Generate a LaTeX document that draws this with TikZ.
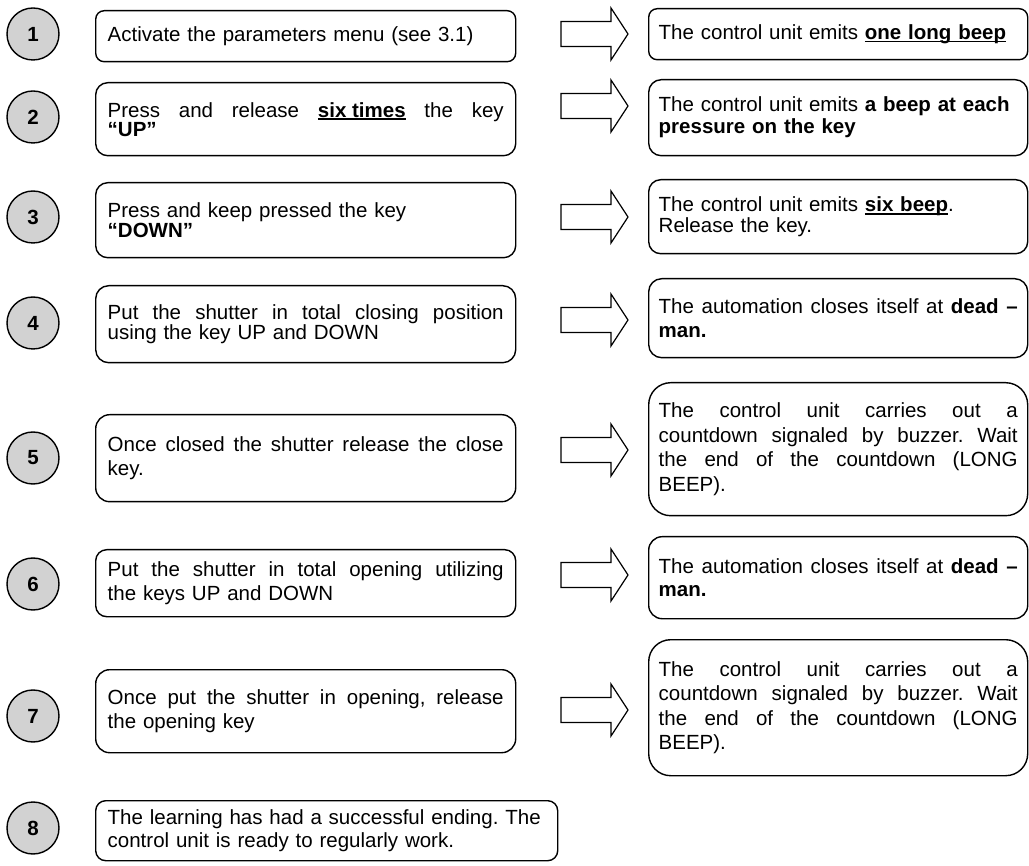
\documentclass[tikz,border=0pt]{standalone}
\usepackage{fontspec}
\setmainfont{Liberation Sans}
\frenchspacing

% bold text with a heavy underline
\newcommand{\undb}[1]{\setbox0\hbox{\bfseries #1}\rlap{\rule[-3pt]{\wd0}{1.6pt}}\box0\relax}
% a line whose spaces are stretched to the given width
\newcommand{\fullline}[2][396pt]{\leavevmode\hbox to #1{\spaceskip=0pt\xspaceskip=0pt\relax #2}}

\begin{document}
\begin{tikzpicture}[x=1pt, y=-1pt,
  txt/.style={font=\fontsize{20.5}{#1}\selectfont},
  txt/.default=23.5,
  num/.style={circle, draw, line width=1.4pt, fill=gray!35, minimum size=52pt,
    inner sep=0pt, font=\fontsize{20.5}{23.5}\selectfont\bfseries},
  stepbox/.style={draw, line width=1.4pt, anchor=north west, align=left,
    inner xsep=12pt, inner ysep=0pt, text width=396pt, txt},
  resbox/.style={draw, line width=1.4pt, anchor=north west, align=left,
    inner xsep=10pt, inner ysep=0pt, text width=359pt, txt},
  blockarrow/.style={draw, line width=1.2pt, fill=white, line join=miter}
]
\useasboundingbox (0,0) rectangle (1029,866);

% numbered step markers
\foreach \n/\y in {1/34, 2/117, 3/217, 4/323, 5/458, 6/584, 7/716, 8/828}
  \node[num] (n\n) at (33,\y) {\n};

% actions
\node[stepbox, minimum height=51pt, rounded corners=8.5pt] (L1) at (95,10)
  {Activate the parameters menu (see 3.1)};
\node[stepbox, minimum height=73pt, rounded corners=12pt, txt=19] (L2) at (95,82)
  {\fullline{Press and release \undb{six times} the key}\\\textbf{“UP”}};
\node[stepbox, minimum height=75pt, rounded corners=12pt, txt=20] (L3) at (95,182)
  {Press and keep pressed the key\\\textbf{“DOWN”}};
\node[stepbox, minimum height=77pt, rounded corners=13pt, txt=20] (L4) at (95,285)
  {\fullline{Put the shutter in total closing position}\\using the key UP and DOWN};
\node[stepbox, minimum height=87pt, rounded corners=14pt] (L5) at (95,414)
  {\fullline{Once closed the shutter release the close}\\key.};
\node[stepbox, minimum height=67pt, rounded corners=11pt] (L6) at (95,549)
  {\fullline{Put the shutter in total opening utilizing}\\the keys UP and DOWN};
\node[stepbox, minimum height=83pt, rounded corners=14pt] (L7) at (95,669)
  {\fullline{Once put the shutter in opening, release}\\the opening key};
\node[stepbox, minimum height=60pt, rounded corners=10pt, text width=438pt] (L8) at (95,800)
  {The learning has had a successful ending. The\\control unit is ready to regularly work.};

% responses
\node[resbox, minimum height=51pt, rounded corners=8.5pt] (R1) at (648,8)
  {The control unit emits \undb{one long beep}};
\node[resbox, minimum height=76pt, rounded corners=12.5pt, txt=22] (R2) at (648,79)
  {The control unit emits \textbf{a beep at each}\\\textbf{pressure on the key}};
\node[resbox, minimum height=74pt, rounded corners=12pt, txt=19] (R3) at (648,179)
  {The control unit emits \undb{six beep}.\\Release the key.};
\node[resbox, minimum height=79pt, rounded corners=13pt] (R4) at (648,278)
  {\fullline[359pt]{The automation closes itself at \textbf{dead –}}\\\textbf{man.}};
\node[resbox, minimum height=133pt, rounded corners=22pt, txt=24.5] (R5) at (648,382)
  {\fullline[359pt]{The control unit carries out a}\\
   \fullline[359pt]{countdown signaled by buzzer. Wait}\\
   \fullline[359pt]{the end of the countdown (LONG}\\BEEP).};
\node[resbox, minimum height=82pt, rounded corners=13.5pt] (R6) at (648,536)
  {\fullline[359pt]{The automation closes itself at \textbf{dead –}}\\\textbf{man.}};
\node[resbox, minimum height=136pt, rounded corners=22pt, txt=24.3] (R7) at (648,639)
  {\fullline[359pt]{The control unit carries out a}\\
   \fullline[359pt]{countdown signaled by buzzer. Wait}\\
   \fullline[359pt]{the end of the countdown (LONG}\\BEEP).};

% block arrows from each action to its response
\foreach \k/\y in {1/34, 2/106, 3/217, 4/320, 5/450, 6/575, 7/710} {
  \coordinate (a\k) at (561,\y);
  \draw[blockarrow] (a\k) ++(0,-12.5) -- ++(50,0) -- ++(0,-13.5) -- ++(17,26)
    -- ++(-17,26) -- ++(0,-13.5) -- ++(-50,0) -- cycle;
}
\end{tikzpicture}
\end{document}
